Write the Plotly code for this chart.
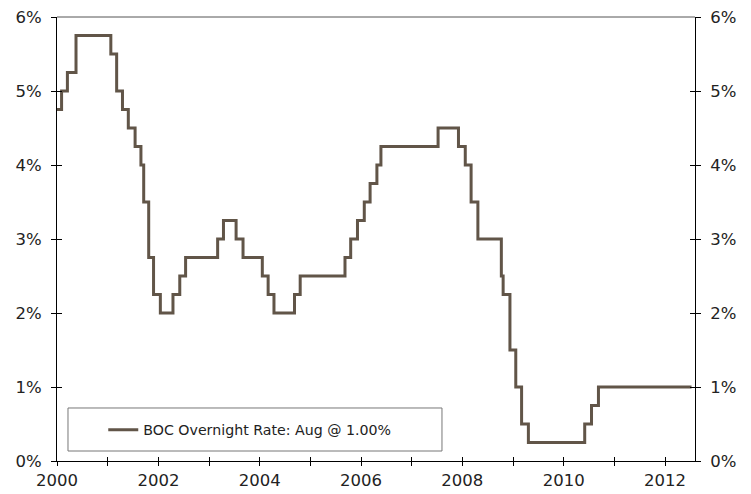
import plotly.graph_objects as go

# Bank of Canada overnight rate: dates of changes and new level (%)
change_dates = ["2000-01-01", "2000-02-03", "2000-03-16", "2000-05-17", "2001-01-23",
                "2001-03-06", "2001-04-17", "2001-05-29", "2001-07-17", "2001-08-28",
                "2001-09-17", "2001-10-23", "2001-11-27", "2002-01-15", "2002-04-16",
                "2002-06-04", "2002-07-16", "2003-03-04", "2003-04-15", "2003-07-15",
                "2003-09-03", "2004-01-20", "2004-03-02", "2004-04-13", "2004-09-08",
                "2004-10-19", "2005-09-07", "2005-10-18", "2005-12-06", "2006-01-24",
                "2006-03-07", "2006-04-25", "2006-05-24", "2007-07-10", "2007-12-04",
                "2008-01-22", "2008-03-04", "2008-04-22", "2008-10-08", "2008-10-21",
                "2008-12-09", "2009-01-20", "2009-03-03", "2009-04-21", "2010-06-01",
                "2010-07-20", "2010-09-08", "2012-07-10"]
rates = [4.75, 5.00, 5.25, 5.75, 5.50,
         5.00, 4.75, 4.50, 4.25, 4.00,
         3.50, 2.75, 2.25, 2.00, 2.25,
         2.50, 2.75, 3.00, 3.25, 3.00,
         2.75, 2.50, 2.25, 2.00, 2.25,
         2.50, 2.75, 3.00, 3.25, 3.50,
         3.75, 4.00, 4.25, 4.50, 4.25,
         4.00, 3.50, 3.00, 2.50, 2.25,
         1.50, 1.00, 0.50, 0.25, 0.50,
         0.75, 1.00, 1.00]

series_name = "BOC Overnight Rate: Aug @ 1.00%"

year_ticks = [f"{y}-01-01" for y in range(2000, 2013)]
year_labels = [str(y) if y % 2 == 0 else "" for y in range(2000, 2013)]
y_ticks = [0, 1, 2, 3, 4, 5, 6]
y_labels = [f"{v}%" for v in y_ticks]

x_range = ["2000-01-01", "2012-08-04"]
y_range = [0, 6]

line_color = "#615548"
font = dict(family="DejaVu Sans, Verdana, sans-serif", size=16.5, color="#222222")

fig = go.Figure()
fig.add_trace(go.Scatter(x=change_dates, y=rates, mode="lines", line_shape="hv",
                         line=dict(color=line_color, width=3), name=series_name,
                         showlegend=True, hoverinfo="x+y"))
# invisible companions so that overlay axes are drawn
fig.add_trace(go.Scatter(x=change_dates, y=rates, mode="lines", xaxis="x2", yaxis="y3",
                         line=dict(width=0), opacity=0, showlegend=False, hoverinfo="skip"))
fig.add_trace(go.Scatter(x=change_dates, y=rates, mode="lines", xaxis="x", yaxis="y2",
                         line=dict(width=0), opacity=0, showlegend=False, hoverinfo="skip"))
fig.add_trace(go.Scatter(x=change_dates, y=rates, mode="lines", xaxis="x", yaxis="y4",
                         line=dict(width=0), opacity=0, showlegend=False, hoverinfo="skip"))

common_x = dict(type="date", range=x_range, tickvals=year_ticks, showgrid=False,
                zeroline=False, tickcolor="black", linecolor="black", linewidth=1,
                tickwidth=1, ticklen=4, automargin=False)
common_y = dict(range=y_range, tickvals=y_ticks, showgrid=False, zeroline=False,
                tickcolor="black", linecolor="black", linewidth=1, tickwidth=1, ticklen=5,
                automargin=False)

fig.update_layout(
    width=751, height=494,
    margin=dict(l=57, r=56, t=17, b=33, autoexpand=False),
    paper_bgcolor="white", plot_bgcolor="white",
    font=font,
    xaxis=dict(**common_x, ticktext=year_labels, ticks="outside", showline=True,
               anchor="y", side="bottom", tickfont=font),
    xaxis2=dict(**common_x, ticks="inside", showline=False, showticklabels=False,
                overlaying="x", anchor="y", side="bottom"),
    yaxis=dict(**common_y, ticktext=y_labels, ticks="outside", showline=True,
               side="left", tickfont=font, ticklabelstandoff=6),
    yaxis2=dict(**common_y, ticktext=y_labels, ticks="outside", showline=True,
                side="right", overlaying="y", anchor="x", tickfont=font, ticklabelstandoff=6),
    yaxis3=dict(**common_y, ticks="inside", showline=False, showticklabels=False,
                side="left", overlaying="y", anchor="x2"),
    yaxis4=dict(**common_y, ticks="inside", showline=False, showticklabels=False,
                side="right", overlaying="y", anchor="x"),
    showlegend=True,
    legend=dict(x=0.0725, y=0.0698, xanchor="left", yanchor="middle",
                bgcolor="rgba(0,0,0,0)", borderwidth=0,
                font=dict(family="DejaVu Sans, Verdana, sans-serif", size=14.2, color="#222222")),
    shapes=[
        dict(type="line", xref="paper", yref="paper", x0=0, x1=1, y0=1, y1=1,
             line=dict(color="#555555", width=1)),
        dict(type="rect", xref="paper", yref="paper", x0=0.01724, x1=0.6034,
             y0=0.0225, y1=0.1194, line=dict(color="#777777", width=1),
             fillcolor="rgba(0,0,0,0)"),
    ],
)

fig.write_html("out.html", config={"displayModeBar": False},
               post_script="document.body.style.margin='0px';document.body.style.overflow='hidden';")
